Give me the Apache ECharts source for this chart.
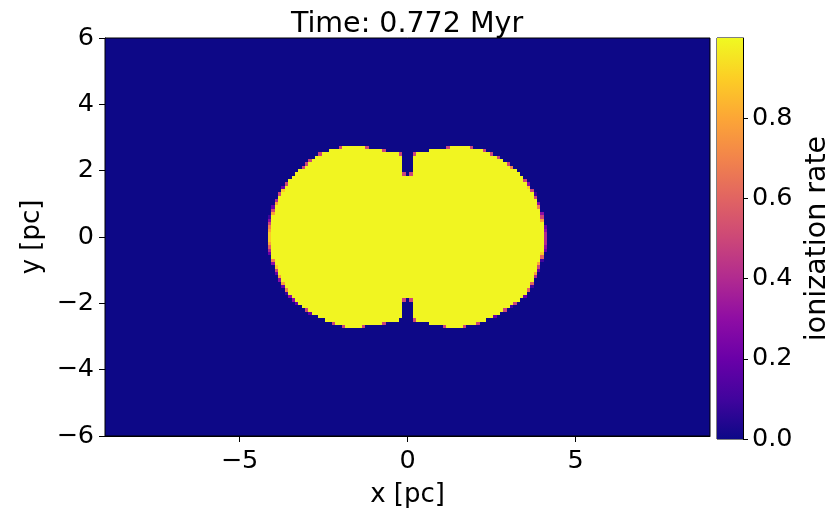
<!DOCTYPE html>
<html>
<head>
<meta charset="utf-8">
<script src="https://cdn.jsdelivr.net/npm/echarts@6/dist/echarts.min.js"></script>
<style>html,body{margin:0;padding:0;background:#fff}#c{width:833px;height:513px}</style>
</head>
<body>
<div id="c"></div>
<script>
// ---- data ----
const titleText = 'Time: 0.772 Myr';
// rows (y, pc) that contain ionized gas, top to bottom
const rowY = [2.7,2.6,2.5,2.4,2.3,2.2,2.1,2.0,1.9,1.8,1.7,1.6,1.5,1.4,1.3,1.2,1.1,1.0,0.9,0.8,0.7,0.6,0.5,0.4,0.3,0.2,0.1,0.0,
  -0.1,-0.2,-0.3,-0.4,-0.5,-0.6,-0.7,-0.8,-0.9,-1.0,-1.1,-1.2,-1.3,-1.4,-1.5,-1.6,-1.7,-1.8,-1.9,-2.0,-2.1,-2.2,-2.3,-2.4,-2.5,-2.6,-2.7];
// outer left edge of the ionized region in each row (pc)
const leftEdge = [-2.0,-2.35,-2.6,-2.75,-2.9,-3.0,-3.1,-3.25,-3.35,-3.45,-3.55,-3.6,-3.67,-3.74,-3.8,-3.85,-3.89,-3.93,-3.97,-4.0,-4.03,-4.06,-4.08,-4.1,-4.12,-4.13,-4.14,-4.14,
  -4.14,-4.13,-4.11,-4.09,-4.07,-4.05,-4.02,-3.98,-3.94,-3.9,-3.87,-3.83,-3.78,-3.73,-3.67,-3.62,-3.56,-3.48,-3.38,-3.27,-3.15,-3.0,-2.87,-2.65,-2.45,-2.2,-1.9];
// outer right edge of the ionized region in each row (pc)
const rightEdge = [1.9,2.3,2.5,2.7,2.85,3.0,3.12,3.25,3.35,3.45,3.5,3.58,3.64,3.7,3.76,3.8,3.85,3.88,3.92,3.95,3.98,4.0,4.03,4.05,4.07,4.08,4.09,4.09,
  4.09,4.09,4.08,4.07,4.04,4.01,3.96,3.93,3.9,3.87,3.83,3.79,3.75,3.71,3.66,3.61,3.55,3.47,3.35,3.2,3.06,2.9,2.75,2.57,2.35,2.1,1.7];
// neutral gap (notch) near x = 0 in each row: left / right limits (pc)
const gapLeft = [-1.2,-0.7,-0.2,-0.15,-0.15,-0.15,-0.15,-0.15,-0.1,0,0,0,0,0,0,0,0,0,0,0,0,0,0,0,0,0,0,0,
  0,0,0,0,0,0,0,0,0,0,0,0,0,0,0,0,0,0,-0.1,-0.15,-0.15,-0.15,-0.15,-0.15,-0.25,-0.7,-1.3];
const gapRight = [1.2,0.65,0.2,0.15,0.15,0.15,0.15,0.15,0.1,0,0,0,0,0,0,0,0,0,0,0,0,0,0,0,0,0,0,0,
  0,0,0,0,0,0,0,0,0,0,0,0,0,0,0,0,0,0,0.1,0.15,0.15,0.15,0.15,0.15,0.2,0.65,1.1];
const ionizedValue = 0.99;   // ionization rate inside the bubble
const neutralValue = 0.0;    // outside
const xTicks = [-5, 0, 5];
const yTicks = [-6, -4, -2, 0, 2, 4, 6];
const cbTicks = [0.0, 0.2, 0.4, 0.6, 0.8];
const cbMax = 1.0;
const plasma = ['#0d0887','#41049d','#6a00a8','#8f0da4','#b12a90','#cc4778','#e16462','#f2844b','#fca636','#fcce25','#f0f921'];

// ---- build the grid of cells (0.1 pc) ----
const cell = 0.1;
function overlap(a, b, c, d) { return Math.max(0, Math.min(b, d) - Math.max(a, c)); }
const cells = [];
for (let j = -60; j <= 60; j++) {
  const y = Math.round(j * cell * 10) / 10;
  const ri = rowY.findIndex(v => Math.abs(v - y) < 1e-6);
  for (let k = -90; k <= 90; k++) {
    const x = Math.round(k * cell * 10) / 10;
    let v = neutralValue;
    if (ri >= 0) {
      const a = x - cell / 2, b = x + cell / 2;
      const L = leftEdge[ri], R = rightEdge[ri];
      let cov = overlap(a, b, L, R);
      const gL = Math.max(gapLeft[ri], L), gR = Math.min(gapRight[ri], R);
      if (gR > gL) cov -= overlap(a, b, gL, gR);
      v = Math.max(0, cov / cell) * ionizedValue;
    }
    cells.push([x, y, v]);
  }
}

const minus = v => (v < 0 ? '\u2212' + Math.abs(v) : String(v));
const FONT = 'DejaVu Sans';
const chart = echarts.init(document.getElementById('c'), null, { renderer: 'canvas' });
chart.setOption({
  animation: false,
  backgroundColor: '#ffffff',
  textStyle: { fontFamily: FONT, color: '#000' },
  title: {
    text: titleText, left: 402, top: 5, textAlign: 'center',
    textStyle: { fontFamily: FONT, fontSize: 28.5, fontWeight: 'normal', color: '#000' }
  },
  grid: [
    { left: 105, top: 38, width: 605, height: 401, show: true, borderColor: '#000', borderWidth: 1, backgroundColor: 'transparent', z: 10 },
    { left: 717, top: 38, width: 31, height: 401, show: true, borderColor: '#000', borderWidth: 1 }
  ],
  visualMap: {
    show: false, type: 'continuous', min: 0, max: cbMax, dimension: 2, seriesIndex: 0,
    inRange: { color: plasma }
  },
  xAxis: [
    {
      gridIndex: 0, type: 'value', min: -9, max: 9,
      axisLine: { show: true, onZero: false, lineStyle: { color: '#000', width: 1 } },
      axisTick: { show: true, customValues: xTicks, length: 6, lineStyle: { color: '#000' } },
      axisLabel: { customValues: xTicks, fontSize: 25.5, color: '#000', margin: 12, fontFamily: FONT, formatter: minus },
      splitLine: { show: false },
      name: 'x [pc]', nameLocation: 'middle', nameGap: 46,
      nameTextStyle: { fontSize: 26, color: '#000', fontFamily: FONT }
    },
    { gridIndex: 1, type: 'category', data: ['cb'], show: false }
  ],
  yAxis: [
    {
      gridIndex: 0, type: 'value', min: -6, max: 6, interval: 2,
      axisLine: { show: true, onZero: false, lineStyle: { color: '#000', width: 1 } },
      axisTick: { show: true, length: 6, lineStyle: { color: '#000' } },
      axisLabel: { fontSize: 25.5, color: '#000', margin: 11, fontFamily: FONT, formatter: minus },
      splitLine: { show: false },
      name: 'y [pc]', nameLocation: 'middle', nameGap: 47, nameRotate: 90,
      nameTextStyle: { fontSize: 26, color: '#000', fontFamily: FONT }
    },
    {
      gridIndex: 1, type: 'value', min: 0, max: cbMax, position: 'right',
      axisLine: { show: true, lineStyle: { color: '#000', width: 1 } },
      axisTick: { show: true, customValues: cbTicks, length: 5, lineStyle: { color: '#000' } },
      axisLabel: { customValues: cbTicks, fontSize: 25.5, color: '#000', margin: 9, fontFamily: FONT, formatter: v => v.toFixed(1) },
      splitLine: { show: false },
      name: 'ionization rate', nameLocation: 'middle', nameGap: 60, nameRotate: 90,
      nameTextStyle: { fontSize: 28.5, color: '#000', fontFamily: FONT }
    }
  ],
  series: [
    {
      type: 'custom', xAxisIndex: 0, yAxisIndex: 0, clip: true,
      dimensions: ['x', 'y', 'v'], encode: { x: 0, y: 1 },
      data: cells,
      renderItem: function (params, api) {
        const x = api.value(0), y = api.value(1);
        const p0 = api.coord([x - cell / 2, y + cell / 2]);
        const p1 = api.coord([x + cell / 2, y - cell / 2]);
        const cs = params.coordSys;
        const x0 = Math.max(cs.x, Math.round(p0[0]));
        const x1 = Math.min(cs.x + cs.width, Math.round(p1[0]));
        const y0 = Math.max(cs.y, Math.round(p0[1]));
        const y1 = Math.min(cs.y + cs.height, Math.round(p1[1]));
        if (x1 <= x0 || y1 <= y0) return null;
        return {
          type: 'rect',
          shape: { x: x0, y: y0, width: x1 - x0, height: y1 - y0 },
          style: { fill: api.visual('color'), stroke: null, lineWidth: 0 }
        };
      }
    },
    {
      type: 'bar', xAxisIndex: 1, yAxisIndex: 1, barWidth: '100%',
      data: [cbMax], silent: true,
      itemStyle: {
        color: new echarts.graphic.LinearGradient(0, 1, 0, 0,
          plasma.map((c, i) => ({ offset: i / (plasma.length - 1), color: c })))
      }
    }
  ]
});
</script>
</body>
</html>
